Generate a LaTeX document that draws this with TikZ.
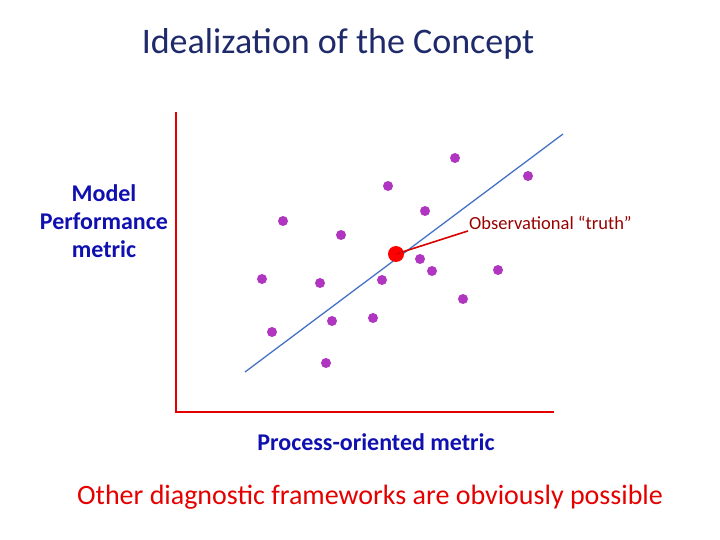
\documentclass[tikz,border=0pt]{standalone}
\usepackage{fontspec}
\setmainfont{Carlito}
\definecolor{ptc}{HTML}{B035C0}
\definecolor{lblue}{HTML}{4472C4}
\definecolor{tblue}{HTML}{1F2A6B}
\definecolor{lblc}{HTML}{1010B0}
\begin{document}
\begin{tikzpicture}[x=1pt,y=-1pt,
  pt/.style={circle,fill=ptc,inner sep=0pt,minimum size=10pt},
  lbl/.style={text=lblc,font=\bfseries\fontsize{24}{28}\selectfont,align=center}]
\useasboundingbox (0,0) rectangle (720,540);
\node (title) at (338,44) {\fontsize{36}{40}\selectfont\color{tblue}Idealization of the Concept};
\coordinate (o) at (176,412);
\coordinate (ytop) at (176,112);
\coordinate (xend) at (554,412);
\draw[red!90!black,line width=2.2pt] (ytop) -- (o) -- (xend);
\coordinate (b1) at (245,372); \coordinate (b2) at (563,134);
\draw[lblue,line width=1.3pt] (b1) -- (b2);
\foreach \x/\y [count=\i] in {455/158,528/176,388/186,283/221,425/211,341/235,262/279,320/283,382/280,420/259,432/271,498/270,463/299,272/332,332/321,373/318,326/363}
  \node[pt] (p\i) at (\x,\y) {};
\node[circle,fill=red,inner sep=0pt,minimum size=16pt] (truth) at (396,254) {};
\node[anchor=west,inner sep=1pt,font=\fontsize{18.5}{22}\selectfont,text=red!60!black] (obs) at (468,223) {Observational “truth”};
\draw[red!85!black,line width=1.6pt] (truth.center) -- (obs.south west);
\node[lbl] (ylab) at (104,221) {Model\\Performance\\metric};
\node[lbl] (xlab) at (376,442) {Process-oriented metric};
\node[text=red!90!black,font=\fontsize{28}{32}\selectfont] (bottom) at (370,497) {Other diagnostic frameworks are obviously possible};
\end{tikzpicture}
\end{document}
